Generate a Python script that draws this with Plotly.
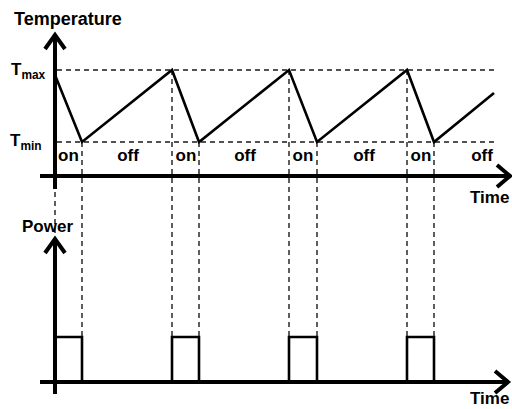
import plotly.graph_objects as go

# ---------------- data (time in arbitrary units, temperature normalised Tmin=0, Tmax=1) ----
temp_time = [0, 27, 117, 144, 234, 262, 352, 379, 439]
temp_vals = [0.93, 0, 1, 0, 1, 0, 1, 0, 0.68]
on_start = [0, 117, 234, 352]
on_end = [27, 144, 262, 379]
power_level = [1, 1, 1, 1]
T_max, T_min = 1, 0
state_labels = ["on", "off", "on", "off", "on", "off", "on", "off"]
state_pos = [13.5, 73, 131, 190, 248, 309, 366, 427]
ref_line_span = [2, 440]

# ---------------- layout constants ----------------
W, H = 512, 409
X0 = 55                      # pixel of t = 0
XR = [-X0, W - X0]
Y1_PX0, Y1_SCALE = 142, 72   # temperature: pixel of Tmin, px per unit
Y2_PX0, Y2_SCALE = 382, 45   # power: pixel of 0, px per unit
Y1R = [(Y1_PX0 - H) / Y1_SCALE, Y1_PX0 / Y1_SCALE]
Y2R = [(Y2_PX0 - H) / Y2_SCALE, Y2_PX0 / Y2_SCALE]


def power_to_temp(p):
    py_ = Y2_PX0 - p * Y2_SCALE
    return (Y1_PX0 - py_) / Y1_SCALE


def px(x):
    return x / W


def py(y):
    return 1 - y / H


DASH = dict(color="#1a1a1a", width=1.4, dash="5px,4px")
fig = go.Figure()

# horizontal reference lines
for lvl in (T_max, T_min):
    fig.add_trace(go.Scatter(x=ref_line_span, y=[lvl, lvl], mode="lines", line=DASH,
                             hoverinfo="skip", showlegend=False))

# vertical dashed switch lines
temp_at = dict(zip(temp_time, temp_vals))
for s, e, p in zip(on_start, on_end, power_level):
    for t in (s, e):
        fig.add_trace(go.Scatter(x=[t, t], y=[temp_at[t], power_to_temp(p)], mode="lines",
                                 line=DASH, hoverinfo="skip", showlegend=False))

# temperature curve
fig.add_trace(go.Scatter(x=temp_time, y=temp_vals, mode="lines",
                         line=dict(color="black", width=2.6), showlegend=False))

# power pulses
px_list, py_list = [], []
for s, e, p in zip(on_start, on_end, power_level):
    px_list += [s, s, e, e, None]
    py_list += [0, p, p, 0, None]
fig.add_trace(go.Scatter(x=px_list, y=py_list, mode="lines", yaxis="y2",
                         line=dict(color="black", width=2.6), showlegend=False))

# on/off labels
fig.add_trace(go.Scatter(x=state_pos, y=[-0.21] * len(state_pos), mode="text",
                         text=["<b>%s</b>" % s for s in state_labels],
                         textfont=dict(family="Liberation Sans", size=17, color="black"),
                         showlegend=False, hoverinfo="skip"))

# axes with arrows (decoration, pixel-placed)
shapes = []
AX = dict(color="black", width=4)


def seg(x0, y0, x1, y1):
    shapes.append(dict(type="line", xref="paper", yref="paper", x0=px(x0), y0=py(y0),
                       x1=px(x1), y1=py(y1), line=AX, layer="above"))


def chev(pts):
    d = "M " + " L ".join(f"{px(a)},{py(b)}" for a, b in pts)
    shapes.append(dict(type="path", xref="paper", yref="paper", path=d, line=AX, layer="above"))


seg(55, 36, 55, 189)
seg(40, 176, 507, 176)
chev([(45, 49), (55, 35), (65, 49)])
chev([(497, 165), (510, 176), (497, 187)])
seg(55, 240, 55, 394)
seg(40, 382, 505, 382)
chev([(45, 253), (55, 239), (65, 253)])
chev([(495, 371), (508, 382), (495, 393)])

F = "Liberation Sans"
ann = [
    dict(text="<b>Temperature</b>", x=px(12), y=py(19), xanchor="left", size=18),
    dict(text="<b>Power</b>", x=px(20), y=py(226), xanchor="left", size=17),
    dict(text="<b>Time</b>", x=px(511), y=py(197), xanchor="right", size=17),
    dict(text="<b>Time</b>", x=px(511), y=py(398), xanchor="right", size=17),
    dict(text="<b>T<sub>max</sub></b>", x=px(48), y=py(71), xanchor="right", size=17),
    dict(text="<b>T<sub>min</sub></b>", x=px(44), y=py(142), xanchor="right", size=17),
]
annotations = [dict(text=a["text"], x=a["x"], y=a["y"], xref="paper", yref="paper",
                    xanchor=a["xanchor"], yanchor="middle", showarrow=False,
                    font=dict(family=F, size=a["size"], color="black")) for a in ann]

fig.update_layout(
    width=W, height=H, margin=dict(l=0, r=0, t=0, b=0),
    paper_bgcolor="white", plot_bgcolor="white",
    xaxis=dict(range=XR, visible=False, fixedrange=True),
    yaxis=dict(range=Y1R, visible=False, fixedrange=True),
    yaxis2=dict(range=Y2R, visible=False, overlaying="y", fixedrange=True),
    shapes=shapes, annotations=annotations,
    font=dict(family=F),
)
fig.write_html("out.html", config={"displayModeBar": False},
               post_script="document.body.style.margin='0';document.body.style.overflow='hidden';")
